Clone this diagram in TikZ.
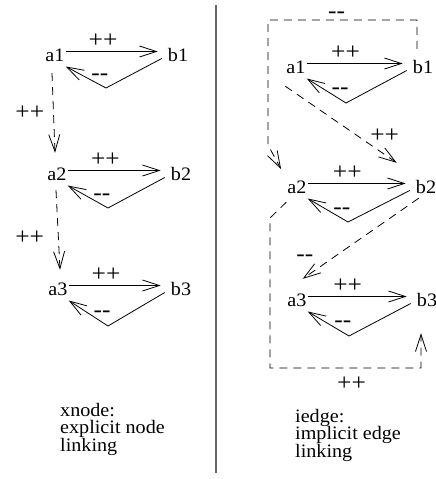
\documentclass[tikz,border=0pt]{standalone}
\usepackage{fontspec}
\setmainfont{Liberation Serif}[FakeStretch=1.06]
\usetikzlibrary{arrows.meta}

\begin{document}
\begin{tikzpicture}[
  x=1pt, y=-1pt,
  >={Straight Barb[length=17pt,width=11pt]},
  every node/.style={font=\fontsize{19}{17.5}\selectfont},
  vx/.style={inner sep=1pt, text height=13pt, text depth=0pt, anchor=base},
  lbl/.style={inner sep=1pt, font=\fontsize{24}{24}\selectfont},
  fwd/.style={->, line width=0.8pt, shorten >=9pt},
  bck/.style={->, line width=0.8pt},
  dsh/.style={->, line width=0.8pt, dash pattern=on 8pt off 6pt},
  sep/.style={draw=black!60, line width=1.6pt},
  note/.style={align=left, anchor=north west, inner sep=0pt}
]
\useasboundingbox (0,0) rectangle (436,479);

% xnode: explicit node linking
\node[vx] (xa1) at (55,61)  {a1};
\node[vx] (xb1) at (178,61) {b1};
\node[vx] (xa2) at (57,180) {a2};
\node[vx] (xb2) at (181,180) {b2};
\node[vx] (xa3) at (58,295) {a3};
\node[vx] (xb3) at (181,295) {b3};

\coordinate (xv1) at (106,88);
\coordinate (xv2) at (108,208);
\coordinate (xv3) at (108,326);

\draw[fwd] ([yshift=3pt]xa1.east) -- node[lbl, pos=0.37, above=3pt]{++} ([yshift=3pt]xb1.west);
\draw[bck] ([xshift=-5pt,yshift=-4pt]xb1.west) -- (xv1) -- node[lbl, pos=0.15, above=3pt]{-{}-} ([yshift=-12pt]xa1.east);
\draw[fwd] ([yshift=3pt]xa2.east) -- node[lbl, pos=0.37, above=3pt]{++} ([yshift=3pt]xb2.west);
\draw[bck] ([xshift=-5pt,yshift=-4pt]xb2.west) -- (xv2) -- node[lbl, pos=0.15, above=3pt]{-{}-} ([yshift=-12pt]xa2.east);
\draw[fwd] ([yshift=3pt]xa3.east) -- node[lbl, pos=0.37, above=3pt]{++} ([yshift=3pt]xb3.west);
\draw[bck] ([xshift=-5pt,yshift=-4pt]xb3.west) -- (xv3) -- node[lbl, pos=0.15, above=3pt]{-{}-} ([yshift=-12pt]xa3.east);

\draw[dsh] ([xshift=-3pt,yshift=-11pt]xa1.south) -- node[lbl, pos=0.5, left=8pt]{++} ([xshift=-2pt,yshift=13pt]xa2.north);
\draw[dsh] ([xshift=-1pt,yshift=-9pt]xa2.south) -- node[lbl, pos=0.6, left=13pt]{++} ([xshift=2pt,yshift=11pt]xa3.north);

\node[note] (xtxt) at (60,403) {xnode:\\explicit node\\linking};

% separator
\draw[sep] (215.7,5) -- (215.7,473);

% iedge: implicit edge linking
\node[vx] (ia1) at (296,73)  {a1};
\node[vx] (ib1) at (423,73)  {b1};
\node[vx] (ia2) at (297,193) {a2};
\node[vx] (ib2) at (426,193) {b2};
\node[vx] (ia3) at (297,306) {a3};
\node[vx] (ib3) at (427,306) {b3};

\coordinate (iv1) at (346,103);
\coordinate (iv2) at (348,222);
\coordinate (iv3) at (349,336);

\draw[fwd] ([yshift=3pt]ia1.east) -- node[lbl, pos=0.37, above=3pt]{++} ([yshift=3pt]ib1.west);
\draw[bck] ([xshift=-5pt,yshift=-4pt]ib1.west) -- (iv1) -- node[lbl, pos=0.15, above=3pt]{-{}-} ([yshift=-12pt]ia1.east);
\draw[fwd] ([yshift=3pt]ia2.east) -- node[lbl, pos=0.37, above=3pt]{++} ([yshift=3pt]ib2.west);
\draw[bck] ([xshift=-5pt,yshift=-4pt]ib2.west) -- (iv2) -- node[lbl, pos=0.15, above=3pt]{-{}-} ([yshift=-12pt]ia2.east);
\draw[fwd] ([yshift=3pt]ia3.east) -- node[lbl, pos=0.37, above=3pt]{++} ([yshift=3pt]ib3.west);
\draw[bck] ([xshift=-5pt,yshift=-4pt]ib3.west) -- (iv3) -- node[lbl, pos=0.15, above=3pt]{-{}-} ([yshift=-12pt]ia3.east);

% implicit edges
\coordinate (itl) at (268,20);
\coordinate (ibl) at (268,145);
\draw[dsh, shorten >=11pt] ([xshift=-6pt,yshift=10pt]ib1.north) |- node[lbl, pos=0.77, above=0.5pt]{-{}-} (itl) -- (ibl) -- (ia2.north west);
\draw[dsh] ([yshift=-12pt]ia1.south west) -- node[lbl, pos=0.75, above right=0pt]{++} ([xshift=-18pt,yshift=16pt]ib2.north west);
\draw[dsh] ([xshift=4pt,yshift=-4pt]ib2.south west) -- node[lbl, pos=0.75, left=17pt]{-{}-} ([xshift=-5pt,yshift=13pt]ia3.north east);
\coordinate (ilt) at (270,218);
\coordinate (ilb) at (270,368);
\draw[dsh] ([yshift=-8pt]ia2.south west) -- (ilt) -- (ilb) -| node[lbl, pos=0.27, below=8pt]{++} ([xshift=-6pt,yshift=-26pt]ib3.south);

\node[note] (itxt) at (295,409) {iedge:\\implicit edge\\linking};

\end{tikzpicture}
\end{document}
